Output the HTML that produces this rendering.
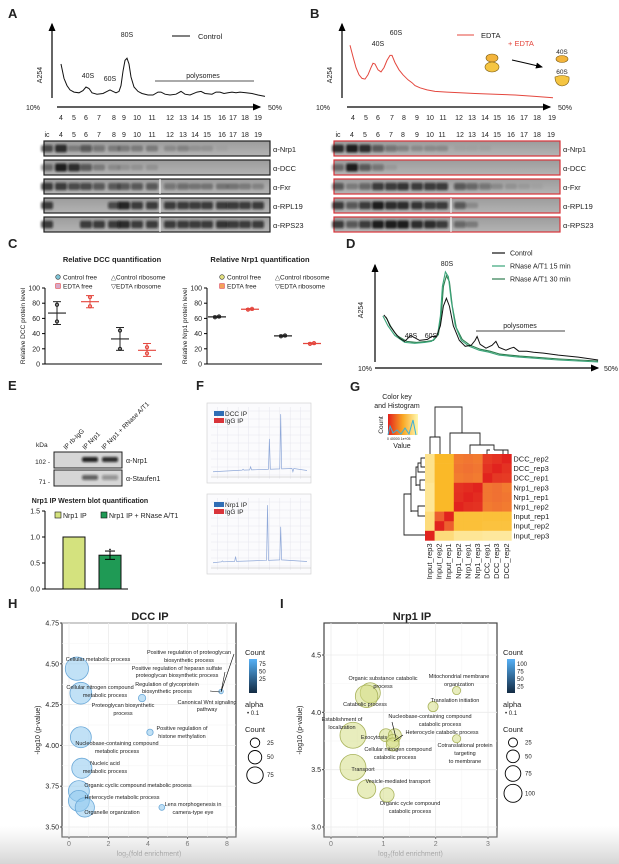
<!DOCTYPE html>
<html><head><meta charset="utf-8"><style>
html,body{margin:0;padding:0;background:#fff}
svg{display:block;font-family:"Liberation Sans",sans-serif}
text{fill:#222}
</style></head><body>
<svg id="fig" width="619" height="864" viewBox="0 0 619 864">
<defs>
<filter id="blur" x="-50%" y="-50%" width="200%" height="200%"><feGaussianBlur stdDeviation="1.1"/></filter>
<linearGradient id="blotbg" x1="0" y1="0" x2="0" y2="1"><stop offset="0" stop-color="#9c9c9c"/><stop offset="1" stop-color="#b4b4b4"/></linearGradient>
<linearGradient id="cntgrad" x1="0" y1="0" x2="0" y2="1"><stop offset="0" stop-color="#56b1f7"/><stop offset="1" stop-color="#132b43"/></linearGradient>
<linearGradient id="keygrad" x1="0" y1="0" x2="1" y2="0"><stop offset="0" stop-color="#e3201c"/><stop offset="0.5" stop-color="#f9a825"/><stop offset="1" stop-color="#fff9b0"/></linearGradient>
<linearGradient id="fade" x1="0" y1="0" x2="0" y2="1"><stop offset="0" stop-color="#dcdcdc" stop-opacity="0"/><stop offset="1" stop-color="#d6d6d6" stop-opacity="1"/></linearGradient>
<marker id="arr" markerWidth="8" markerHeight="8" refX="6" refY="3" orient="auto"><path d="M0,0 L7,3 L0,6z" fill="#000"/></marker>
</defs>
<g font-weight="bold" font-size="13">
<text x="8" y="18">A</text>
<text x="310" y="18">B</text>
<text x="8" y="248">C</text>
<text x="346" y="248">D</text>
<text x="8" y="390">E</text>
<text x="196" y="390">F</text>
<text x="350" y="391">G</text>
<text x="8" y="608">H</text>
<text x="280" y="608">I</text>
</g>
<g id="root"></g>
<rect x="0" y="826" width="619" height="38" fill="url(#fade)"/>
</svg>
<script>
// ---------------- DATA ----------------
const aTraceX=[1,1.75,2.5,3.25,4.25,5.5,6.5,7.25,8,8.75,10,11.5,12.5,13.25,14,14.75,15.5,16,16.5,17,17.5,18,18.5,19.25,20.25,21.25,22.75,24,25.25,26,27,28.25,29.75,31,32,33.25,35,36,37,38.75,39.75,40.75,41.75,42.75,43.75,44.75,45.75,47.25,48.75,50.25,52];
const aTraceY=[5.0,3.0,2.0,1.4,1.1,1.0,1.3,1.8,1.6,1.0,0.8,0.9,1.2,1.4,1.2,1.0,1.2,2.0,4.0,5.5,5.8,5.0,3.2,1.8,1.2,0.9,0.7,0.7,1.1,1.1,0.8,0.7,0.8,1.2,0.8,0.7,1.1,1.2,0.9,0.8,1.1,1.1,0.9,1.0,1.1,1.0,1.1,1.0,0.9,0.7,0.5];
const bTraceX=[0.75,1.5,2.25,3,3.75,4.5,5.25,6,6.5,7,7.75,8.5,9.25,10,10.75,11.25,12,13,14,15.25,16.25,17,18.25,20,22,25,28.25,32,37,42,47,51.5];
const bTraceY=[7.6,6.0,4.5,3.5,3.0,2.9,3.5,4.5,5.1,5.0,4.2,3.9,4.5,5.5,6.2,6.2,5.2,4.2,3.5,2.8,2.4,2.0,1.7,1.4,1.2,1.1,1.0,0.9,0.8,0.7,0.5,0.3];
const dCtrlX=[2.25,3,3.75,5,6.25,7.5,9,11.25,13.25,14.25,15.5,16.5,17.25,18,18.75,19.75,21.25,22.75,24.25,25.25,25.75,26.5,28,29.5,30.5,31.25,33,34.25,35,36.25,38.25,40,42.5,46.25,51.25,56.25];
const dCtrlY=[4.6,4.2,3.5,2.8,2.2,1.9,2.5,2.0,2.1,2.4,2.4,3.5,5.5,6.3,5.5,3.5,2.0,1.4,1.5,2.0,2.4,1.6,1.2,1.5,1.9,1.3,1.0,1.2,1.3,0.9,0.9,0.8,0.7,0.5,0.3,0];
const dR15X=[2,3.25,5,7.5,10,12.5,14.25,15.75,16.5,17,17.75,18.5,19.25,20.25,21.75,23.75,26.25,28.75,31.25,36.25,46.25,56.25];
const dR15Y=[4.5,3.5,2.5,1.8,1.7,1.8,1.9,2.5,4.5,7.5,9.0,8.5,6.0,3.5,2.0,1.4,1.0,0.8,0.5,0.3,0,-0.2];
const dR30X=[2.75,4,5.5,8,10.5,13,14.75,16,16.75,17.25,18,18.75,19.5,20.5,22,24,26.5,29,31.5,36.5,46.5,56.25];
const dR30Y=[4.4,3.4,2.5,1.9,1.8,1.9,2.0,2.6,4.8,7.5,8.6,8.0,5.5,3.3,2.1,1.5,1.1,0.9,0.6,0.4,0.1,-0.1];
const laneLabels=['ic','4','5','6','7','8','9','10','11','12','13','14','15','16','17','18','19'];
const blotNames=['α-Nrp1','α-DCC','α-Fxr','α-RPL19','α-RPS23'];
const aNrp1=[0.7,0.9,0.3,0.6,0.4,0.3,0.3,0.3,0.3,0.2,0.25,0.15,0.15,0.05,0,0,0];
const aDCC=[0.5,1,0.9,0.6,0.3,0.2,0.15,0.15,0.15,0,0,0,0,0,0,0,0];
const aFxr=[0.8,0.8,0.7,0.7,0.6,0.6,0.6,0.6,0.6,0.4,0.45,0.35,0.35,0.35,0.35,0.3,0.25];
const aRPL19=[0.8,0,0,0,0,0.7,0.95,0.8,0.8,0.8,0.8,0.8,0.8,0.8,0.8,0.8,0.8];
const aRPS23=[0.8,0,0,0.8,0.8,0.8,0.9,0.8,0.8,0.8,0.8,0.8,0.8,0.85,0.8,0.8,0.8];
const bNrp1=[0.9,1,0.9,0.6,0.4,0.25,0.2,0.2,0.2,0.05,0.05,0.05,0,0,0,0,0];
const bDCC=[0.5,1,0.6,0.4,0.1,0,0,0,0,0,0,0,0,0,0,0,0];
const bFxr=[0.6,0.3,0.5,0.8,0.8,0.85,0.8,0.8,0.8,0.6,0.5,0.4,0.2,0.15,0.1,0.05,0];
const bRPL19=[0.8,0.6,0.8,1,0.9,0.9,0.85,0.8,0.8,0.6,0.2,0,0,0,0,0,0];
const bRPS23=[0.8,0.6,0.8,1,1,1,0.9,0.9,0.8,0.5,0.3,0,0,0,0,0,0];
const cGroups=['Control free','EDTA free','Control ribosome','EDTA ribosome'];
const cDccMean=[67,82,33,18];
const cDccLo=[52,74,18,10];
const cDccHi=[82,90,48,27];
const cDccPts=[[56,78],[88,76],[20,44],[14,22]];
const cNrpMean=[62,72,37,27];
const cNrpLo=[61,71,36,26];
const cNrpHi=[63,73,38,28];
const cTicks=[0,20,40,60,80,100];
const eCats=['Nrp1 IP','Nrp1 IP + RNase A/T1'];
const eVals=[1.0,0.65];
const eErr=[0,0.08];
const eTicks=[0.0,0.5,1.0,1.5];
const gRows=['DCC_rep2','DCC_rep3','DCC_rep1','Nrp1_rep3','Nrp1_rep1','Nrp1_rep2','Input_rep1','Input_rep2','Input_rep3'];
const gCols=['Input_rep3','Input_rep2','Input_rep1','Nrp1_rep2','Nrp1_rep1','Nrp1_rep3','DCC_rep1','DCC_rep3','DCC_rep2'];
const gVals=[
[0.15,0.45,0.45,0.7,0.72,0.7,0.92,0.95,1.0],
[0.15,0.45,0.45,0.72,0.74,0.72,0.95,1.0,0.95],
[0.15,0.45,0.45,0.7,0.72,0.7,1.0,0.93,0.92],
[0.12,0.45,0.45,0.95,0.97,1.0,0.72,0.74,0.7],
[0.12,0.45,0.45,0.96,1.0,0.97,0.72,0.74,0.72],
[0.12,0.45,0.45,1.0,0.96,0.95,0.7,0.72,0.7],
[0.2,0.8,1.0,0.4,0.4,0.4,0.4,0.4,0.4],
[0.2,1.0,0.8,0.4,0.4,0.4,0.38,0.38,0.38],
[1.0,0.2,0.2,0.12,0.12,0.12,0.1,0.1,0.1]];
const hTerms=['Cellular metabolic process','Cellular nitrogen compound metabolic process','Proteoglycan biosynthetic process','Canonical Wnt signaling pathway','Positive regulation of histone methylation','Nucleobase-containing compound metabolic process','Nucleic acid metabolic process','Organic cyclic compound metabolic process','Heterocycle metabolic process','Organelle organization','Lens morphogenesis in camera-type eye'];
const hFold=[0.4,0.6,3.7,7.7,4.1,0.6,0.65,0.5,0.5,0.8,4.7];
const hP=[4.47,4.32,4.29,4.33,4.08,4.05,3.86,3.72,3.66,3.62,3.62];
const hCount=[80,70,8,3,6,65,60,65,65,55,5];
const hXTicks=[0,2,4,6,8];
const hYTicks=[3.5,3.75,4.0,4.25,4.5,4.75];
const iTerms=['Organic substance catabolic process','Catabolic process','Mitochondrial membrane organization','Translation initiation','Establishment of localization','Exocytosis','Nucleobase-containing compound catabolic process','Heterocycle catabolic process','Cellular nitrogen compound catabolic process','Cotranslational protein targeting to membrane','Transport','Vesicle-mediated transport','Organic cycle compound catabolic process'];
const iFold=[0.75,0.68,2.4,1.95,0.42,1.05,1.22,1.18,1.18,2.4,0.42,0.68,1.07];
const iP=[4.17,4.14,4.19,4.05,3.8,3.8,3.8,3.75,3.72,3.77,3.52,3.33,3.28];
const iCount=[60,75,10,15,100,25,25,25,25,10,100,50,30];
const iXTicks=[0,1,2,3];
const iYTicks=[3.0,3.5,4.0,4.5];

// ---------------- HELPERS ----------------
const NS='http://www.w3.org/2000/svg';
const root=document.getElementById('root');
function mk(tag,at,parent){const e=document.createElementNS(NS,tag);for(const k in at)e.setAttribute(k,at[k]);(parent||root).appendChild(e);return e;}
function tx(x,y,s,size,opt,parent){const e=mk('text',Object.assign({x:x,y:y,'font-size':size},opt||{}),parent);e.textContent=s;return e;}
function lin(d0,d1,r0,r1){return v=>r0+(v-d0)*(r1-r0)/(d1-d0);}
function pathFrom(xs,ys,sx,sy){return xs.map((v,i)=>(i?'L':'M')+sx(v).toFixed(1)+','+sy(ys[i]).toFixed(1)).join(' ');}

function profile(x0,xlab,traceX,traceY,color,name,fracPos){
  const sx=lin(0,52,x0+5,x0+213), sy=lin(0,10,100,28);
  let e=mk('line',{x1:x0,y1:98,x2:x0,y2:24,stroke:'#000','stroke-width':1.2,'marker-end':'url(#arr)'});
  
  e=mk('line',{x1:x0+5,y1:107,x2:x0+208,y2:107,stroke:'#000','stroke-width':1.2,'marker-end':'url(#arr)'});
  
  e=tx(x0-10,75,'A254',7,{transform:'rotate(-90 '+(x0-10)+' 75)','text-anchor':'middle'});
  
  e=tx(x0-12,110,'10%',7,{'text-anchor':'end'});
  
  e=tx(x0+216,110,'50%',7);
  
  fracPos.forEach((p,i)=>{const t=tx(p,120,laneLabels[i+1],7,{'text-anchor':'middle'});
    });
  e=mk('path',{d:pathFrom(traceX,traceY,sx,sy),fill:'none',stroke:color,'stroke-width':1});
  
  return {sx,sy};
}
const aFrac=[61,74,86,99,114,124,137,152,170,183,195,207,222,233,245,258];
const bFrac=[353,366,378,392,404,417,430,443,459,472,485,497,511,524,537,552];
profile(52,0,aTraceX,aTraceY,'#111','profile-a',aFrac);
profile(342,0,bTraceX,bTraceY,'#e4473e','profile-b',bFrac);
let t;
t=tx(88,78,'40S',7,{'text-anchor':'middle'});
t=tx(110,81,'60S',7,{'text-anchor':'middle'});
t=tx(127,37,'80S',7,{'text-anchor':'middle'});
t=mk('line',{x1:155,y1:81,x2:254,y2:81,stroke:'#555','stroke-width':1});
t=tx(203,78,'polysomes',7,{'text-anchor':'middle'});
t=mk('line',{x1:172,y1:36,x2:190,y2:36,stroke:'#000','stroke-width':1});
t=tx(198,39,'Control',7.5);
t=tx(378,46,'40S',7,{'text-anchor':'middle'});
t=tx(396,35,'60S',7,{'text-anchor':'middle'});
t=mk('line',{x1:457,y1:35,x2:474,y2:35,stroke:'#e4473e','stroke-width':1});
t=tx(481,38,'EDTA',7.5);
t=tx(508,46,'+ EDTA',7.5,{fill:'#e4473e'});t.style.fill='#e4473e';
t=mk('ellipse',{cx:492,cy:58,rx:6,ry:4,fill:'#f3b43b',stroke:'#7a5a10','stroke-width':0.6});
t=mk('ellipse',{cx:492,cy:67,rx:7,ry:5,fill:'#f5c542',stroke:'#7a5a10','stroke-width':0.6});
t=mk('path',{d:'M512,60 Q530,64 542,67',fill:'none',stroke:'#000','stroke-width':1,'marker-end':'url(#arr)'});
t=tx(562,54,'40S',6.5,{'text-anchor':'middle'});
t=mk('ellipse',{cx:562,cy:59,rx:6,ry:3.5,fill:'#f3b43b',stroke:'#7a5a10','stroke-width':0.6});
t=tx(562,74,'60S',6.5,{'text-anchor':'middle'});
t=mk('path',{d:'M555,77 Q562,74 569,77 Q570,85 562,86 Q555,85 555,77z',fill:'#f5c542',stroke:'#7a5a10','stroke-width':0.6});

function blots(x0,x1,lanes,rows,ys,border,divX,divRows,name){
  lanes.forEach((p,i)=>{const l=tx(p,137,laneLabels[i],7,{'text-anchor':'middle'});
    });
  rows.forEach((vals,r)=>{
    const y=ys[r], h=15;
    const g=mk('g',{});
    
    mk('rect',{x:x0,y:y,width:x1-x0,height:h,fill:'url(#blotbg)',stroke:border,'stroke-width':1.2},g);
    vals.forEach((v,i)=>{ if(v<=0) return;
      const b=mk('rect',{x:lanes[i]-6,y:y+h/2-2.5-v*1.5,width:12,height:5+v*3,rx:2,fill:'#111','fill-opacity':Math.min(1,v*0.9),filter:'url(#blur)'},g);
      });
    if(divRows.includes(r)){mk('line',{x1:divX,y1:y,x2:divX,y2:y+h,stroke:'#fff','stroke-width':1},g);}
    const lb=tx(x1+3,y+11,blotNames[r],7.5);
    
  });
}
blots(44,270,[47].concat(aFrac),[aNrp1,aDCC,aFxr,aRPL19,aRPS23],[141,160,179,198,217],'#222',160,[2,3,4],'a');
blots(334,560,[338,352,365,378,391,403,417,430,442,460,472,485,497,511,524,537,551],[bNrp1,bDCC,bFxr,bRPL19,bRPS23],[141,160,179,198,217],'#d9343a',451,[3,4],'b');

function dotplot(ax,xEnd,xs,mean,lo,hi,pts,colors,title,titleX,ylab,name){
  const sy=lin(0,100,364,288);
  let e=tx(titleX,262,title,7.5,{'font-weight':'bold','text-anchor':'middle'});
  
  e=mk('line',{x1:ax,y1:288,x2:ax,y2:364,stroke:'#000'});
  e=mk('line',{x1:ax,y1:364,x2:xEnd,y2:364,stroke:'#000'});
  cTicks.forEach(v=>{mk('line',{x1:ax-3,y1:sy(v),x2:ax,y2:sy(v),stroke:'#000'});
    const l=tx(ax-5,sy(v)+2.5,String(v),7,{'text-anchor':'end'});});
  e=tx(ax-20,326,ylab,6.5,{transform:'rotate(-90 '+(ax-20)+' 326)','text-anchor':'middle'});
  
  xs.forEach((x,i)=>{const c=colors[i];
    const g=mk('g',{});
    mk('line',{x1:x,y1:sy(lo[i]),x2:x,y2:sy(hi[i]),stroke:c,'stroke-width':1},g);
    mk('line',{x1:x-4,y1:sy(lo[i]),x2:x+4,y2:sy(lo[i]),stroke:c},g);
    mk('line',{x1:x-4,y1:sy(hi[i]),x2:x+4,y2:sy(hi[i]),stroke:c},g);
    mk('line',{x1:x-9,y1:sy(mean[i]),x2:x+9,y2:sy(mean[i]),stroke:c,'stroke-width':1.2},g);
    (pts?pts[i]:[mean[i]-0.5,mean[i]+0.5]).forEach((p,k)=>mk('circle',{cx:x+(pts?0:(k?2:-2)),cy:sy(p),r:1.6,fill:'none',stroke:c},g));
  });
}
dotplot(45,162,[57,90,120,147],cDccMean,cDccLo,cDccHi,cDccPts,['#222','#e4473e','#222','#e4473e'],'Relative DCC quantification',112,'Relative DCC protein level','dcc-quant');
dotplot(207,322,[217,250,283,312],cNrpMean,cNrpLo,cNrpHi,null,['#222','#e4473e','#222','#e4473e'],'Relative Nrp1 quantification',260,'Relative Nrp1 protein level','nrp1-quant');
function cLegend(x1,x2,c1,c2,name){
  let e;
  e=mk('circle',{cx:x1,cy:277,r:2.3,fill:c1,stroke:'#333','stroke-width':0.6});
  e=tx(x1+5,279.5,cGroups[0],6.5);
  e=mk('rect',{x:x1-2.3,y:283.7,width:4.6,height:4.6,fill:c2,stroke:'#d9343a','stroke-width':0.6});
  e=tx(x1+5,288.5,cGroups[1],6.5);
  e=tx(x2,279.5,'△'+cGroups[2],6.5);
  e=tx(x2,288.5,'▽'+cGroups[3],6.5,{fill:'#222'});
}
cLegend(58,111,'#7fc4d6','#d8a8c8','dcc');
cLegend(222,275,'#e3e080','#f5a25a','nrp1');

(function(){
  const sx=lin(0,58,375,605), sy=lin(0,10,360,262);
  let e=mk('line',{x1:375,y1:362,x2:375,y2:265,stroke:'#000','stroke-width':1.2,'marker-end':'url(#arr)'});
  e=mk('line',{x1:375,y1:368,x2:598,y2:368,stroke:'#000','stroke-width':1.2,'marker-end':'url(#arr)'});
  e=tx(363,310,'A254',7,{transform:'rotate(-90 363 310)','text-anchor':'middle'});
  e=tx(372,371,'10%',7,{'text-anchor':'end'});
  e=tx(604,371,'50%',7);
  e=mk('path',{d:pathFrom(dR30X,dR30Y,sx,sy),fill:'none',stroke:'#2e7d4f','stroke-width':1.1});
  e=mk('path',{d:pathFrom(dR15X,dR15Y,sx,sy),fill:'none',stroke:'#3aa57a','stroke-width':1.1});
  e=mk('path',{d:pathFrom(dCtrlX,dCtrlY,sx,sy),fill:'none',stroke:'#111','stroke-width':1});
  e=tx(411,338,'40S',7,{'text-anchor':'middle'});
  e=tx(431,338,'60S',7,{'text-anchor':'middle'});
  e=tx(447,266,'80S',7,{'text-anchor':'middle'});
  e=mk('line',{x1:476,y1:331,x2:565,y2:331,stroke:'#444'});
  e=tx(520,328,'polysomes',7,{'text-anchor':'middle'});
  [['Control','#111'],['RNase A/T1 15 min','#3aa57a'],['RNase A/T1 30 min','#2e7d4f']].forEach((l,i)=>{
    const y=253+i*13;
    const ln=mk('line',{x1:492,y1:y,x2:505,y2:y,stroke:l[1],'stroke-width':1.2});
    const tt=tx(510,y+2.5,l[0],7);});
})();

(function(){
  let e;
  e=tx(36,447,'kDa',6.5);
  e=tx(50,464,'102 -',6.5,{'text-anchor':'end'});
  e=tx(50,484,'71 -',6.5,{'text-anchor':'end'});
  ['IP rb-IgG','IP Nrp1','IP Nrp1 + RNase A/T1'].forEach((s,i)=>{const x=66+i*19;
    const l=tx(x,450,s,6.5,{transform:'rotate(-45 '+x+' 450)'});});
  const rows=[[0,0.9,0.85],[0,0.6,0.35]];
  ['α-Nrp1','α-Staufen1'].forEach((n,r)=>{const y=452+r*18;
    const g=mk('g',{});
    mk('rect',{x:54,y:y,width:68,height:16,fill:'#d6d6d6',stroke:'#222'},g);
    rows[r].forEach((v,i)=>{if(v>0)mk('rect',{x:62+i*20,y:y+5,width:16,height:5,rx:2,fill:'#111','fill-opacity':v,filter:'url(#blur)'},g);});
    const l=tx(126,y+11,n,7);});
  const sy=lin(0,1.5,589,511);
  e=tx(90,503,'Nrp1 IP Western blot quantification',7,{'font-weight':'bold','text-anchor':'middle'});
  e=mk('line',{x1:45,y1:511,x2:45,y2:589,stroke:'#000'});
  e=mk('line',{x1:45,y1:589,x2:128,y2:589,stroke:'#000'});
  eTicks.forEach(v=>{mk('line',{x1:42,y1:sy(v),x2:45,y2:sy(v),stroke:'#000'});
    const l=tx(40,sy(v)+2.5,v.toFixed(1),7,{'text-anchor':'end'});});
  const cols=['#d4e27e','#1f9a55'];
  eVals.forEach((v,i)=>{const x=63+i*36;
    const b=mk('rect',{x:x,y:sy(v),width:22,height:sy(0)-sy(v),fill:cols[i],stroke:'#111'});
    
    if(eErr[i]>0){const g=mk('g',{});
      mk('line',{x1:x+11,y1:sy(v-eErr[i]),x2:x+11,y2:sy(v+eErr[i]),stroke:'#000'},g);
      mk('line',{x1:x+6,y1:sy(v+eErr[i]),x2:x+16,y2:sy(v+eErr[i]),stroke:'#000'},g);
      mk('line',{x1:x+6,y1:sy(v-eErr[i]),x2:x+16,y2:sy(v-eErr[i]),stroke:'#000'},g);
      mk('circle',{cx:x+11,cy:sy(v+eErr[i]+0.03),r:0.8,fill:'#000'},g);}
    const lx=i?101:55;
    const sq=mk('rect',{x:lx,y:512,width:6,height:6,fill:cols[i],stroke:'#111','stroke-width':0.6});
    const lt=tx(lx+8,518,eCats[i],7);
  });
})();

const fTopPeaks=[[0.32,0.06],[0.4,0.1],[0.6,0.55],[0.72,0.95],[0.85,0.02]];
const fBotPeaks=[[0.1,0.05],[0.24,0.12],[0.58,0.95],[0.72,0.6]];
function chrom(y0,peaks,labels,name){
  const x0=207,w=104,h=80;
  const g=mk('g',{});
  mk('rect',{x:x0,y:y0,width:w,height:h,fill:'#fbfbfd',stroke:'#ccc','stroke-width':0.6},g);
  for(let i=1;i<10;i++){mk('line',{x1:x0+i*w/10,y1:y0+4,x2:x0+i*w/10,y2:y0+h-4,stroke:'#e6e6ee','stroke-width':0.5},g);
    mk('line',{x1:x0+4,y1:y0+i*h/10,x2:x0+w,y2:y0+i*h/10,stroke:'#e6e6ee','stroke-width':0.5},g);}
  const sx=lin(0,1,x0+6,x0+w-4), sy=lin(0,1,y0+h-10,y0+8);
  let d='M'+sx(0)+','+sy(0.02);
  peaks.forEach(p=>{d+=' L'+sx(p[0]-0.01)+','+sy(0.03+p[0]*0.05)+' L'+sx(p[0])+','+sy(p[1])+' L'+sx(p[0]+0.01)+','+sy(0.03+p[0]*0.05);});
  d+=' L'+sx(1)+','+sy(0.04);
  const ln=mk('path',{d:d,fill:'none',stroke:'#8fa8d8','stroke-width':0.7},g);
  mk('line',{x1:x0+4,y1:y0+h-6,x2:x0+w,y2:y0+h-6,stroke:'#bbb','stroke-width':0.5},g);
  const cs=['#2f6db5','#d9343a'];
  labels.forEach((s,i)=>{mk('rect',{x:x0+7,y:y0+8+i*7,width:10,height:5,fill:cs[i]},g);
    const l=tx(x0+18,y0+13+i*7,s,6.5);});
}
chrom(403,fTopPeaks,['DCC IP','IgG IP'],'chromatogram-dcc');
chrom(494,fBotPeaks,['Nrp1 IP','IgG IP'],'chromatogram-nrp1');

(function(){
  const x0=425,y0=454,c=9.6;
  function col(v){
    const stops=[[0,[255,246,190]],[0.45,[250,185,40]],[0.75,[240,110,50]],[1,[225,35,30]]];
    for(let i=1;i<stops.length;i++){if(v<=stops[i][0]){const a=stops[i-1],b=stops[i],t=(v-a[0])/(b[0]-a[0]);
      return 'rgb('+a[1].map((q,k)=>Math.round(q+(b[1][k]-q)*t)).join(',')+')';}}
    return 'rgb(225,35,30)';}
  gRows.forEach((r,i)=>{gCols.forEach((cn,j)=>{
    const e=mk('rect',{x:x0+j*c,y:y0+i*c,width:c+0.3,height:c+0.3,fill:col(gVals[i][j])});
    });
    const l=tx(x0+9*c+2,y0+i*c+7.5,r,7.5);});
  gCols.forEach((cn,j)=>{const x=x0+j*c+7;
    const l=tx(x,y0+9*c+3,cn,7.5,{transform:'rotate(-90 '+x+' '+(y0+9*c+3)+')','text-anchor':'end'});
    });
  let d=mk('path',{d:'M430,454 V437 H440 V454 M435,437 V407 H462 V433 M462,433 H450 V454 M462,433 V433 H480 V445 M480,445 H470 V454 M480,445 H494 V450 M490,450 H487 V454 M494,450 H503 V454 M494,450 H508 V454',fill:'none',stroke:'#222','stroke-width':0.9});
  
  d=mk('path',{d:'M425,458 H421 V467 H425 M421,463 H418 V472 H425 M418,467 H416 V486 M425,480 H420 V490 H425 M420,485 H416 V486 M416,477 H411 V512 M425,506 H418 V516 H425 M418,511 H411 M411,494 H404 V535 H425',fill:'none',stroke:'#222','stroke-width':0.9});
  
  let e=tx(397,399,'Color key',7,{'text-anchor':'middle'});
  e=tx(397,408,'and Histogram',7,{'text-anchor':'middle'});
  e=mk('rect',{x:388,y:414,width:30,height:21,fill:'url(#keygrad)'});
  e=mk('path',{d:'M388,435 L390,426 L393,433 L397,430 L401,434 L405,428 L409,434 L413,420 L416,435',fill:'none',stroke:'#3ab0d8','stroke-width':1});
  e=tx(383,425,'Count',6.5,{transform:'rotate(-90 383 425)','text-anchor':'middle'});
  e=tx(387,440,'0  40000  1e+05',3.5);
  e=tx(402,448,'Value',7,{'text-anchor':'middle'});
})();

function bubble(cfg){
  const {px0,px1,py0,py1,xd,yd,xticks,yticks,terms,fold,p,count,fill,stroke,title,titleX,name,rScale,legScale,legendX,cntTicks,sizeTicks,yFmt}=cfg;
  const sx=lin(xd[0],xd[1],cfg.x0px,cfg.x1px), sy=lin(yd[0],yd[1],cfg.y0px,cfg.y1px);
  let e=mk('rect',{x:px0,y:py0,width:px1-px0,height:py1-py0,fill:'#fff',stroke:'#444','stroke-width':1.2});
  
  xticks.forEach((v,i)=>{mk('line',{x1:sx(v),y1:py0,x2:sx(v),y2:py1,stroke:'#ebebeb','stroke-width':0.8});
    if(i<xticks.length-1){const m=(v+xticks[i+1])/2;mk('line',{x1:sx(m),y1:py0,x2:sx(m),y2:py1,stroke:'#f4f4f4','stroke-width':0.5});}
    mk('line',{x1:sx(v),y1:py1,x2:sx(v),y2:py1+2,stroke:'#444'});
    const l=tx(sx(v),py1+9,String(v),7,{'text-anchor':'middle',fill:'#444'});});
  yticks.forEach((v,i)=>{mk('line',{x1:px0,y1:sy(v),x2:px1,y2:sy(v),stroke:'#ebebeb','stroke-width':0.8});
    if(i<yticks.length-1){const m=(v+yticks[i+1])/2;mk('line',{x1:px0,y1:sy(m),x2:px1,y2:sy(m),stroke:'#f4f4f4','stroke-width':0.5});}
    mk('line',{x1:px0-2,y1:sy(v),x2:px0,y2:sy(v),stroke:'#444'});
    const l=tx(px0-3,sy(v)+2.5,yFmt(v),7,{'text-anchor':'end',fill:'#444'});});
  e=tx(titleX,620,title,11,{'font-weight':'bold','text-anchor':'middle'});
  e=tx((px0+px1)/2,856,'',7,{'text-anchor':'middle'});
  const s1=mk('tspan',{},e);s1.textContent='log';const s2=mk('tspan',{dy:2,'font-size':5},e);s2.textContent='2';const s3=mk('tspan',{dy:-2},e);s3.textContent='(fold enrichment)';
  
  const ym=(py0+py1)/2;
  e=tx(px0-22,ym,'-log10 (p-value)',7,{transform:'rotate(-90 '+(px0-22)+' '+ym+')','text-anchor':'middle'});
  
  terms.forEach((t,i)=>{const c=mk('circle',{cx:sx(fold[i]),cy:sy(p[i]),r:rScale(count[i]),fill:fill,'fill-opacity':0.55,stroke:stroke,'stroke-width':0.8});
    });
  e=tx(legendX,cfg.legY,'Count',7.5);
  e=mk('rect',{x:legendX+4,y:cfg.legY+4,width:8,height:34,fill:'url(#cntgrad)'});
  cntTicks.forEach((v,i)=>{const l=tx(legendX+14,cfg.legY+11+i*7.5,String(v),6);});
  e=tx(legendX,cfg.legY+52,'alpha',7.5);
  e=tx(legendX+2,cfg.legY+60,'• 0.1',6);
  e=tx(legendX,cfg.legY+77,'Count',7.5);
  let yy=cfg.legY+83;
  sizeTicks.forEach(v=>{const r=legScale(v);yy+=r;
    const c=mk('circle',{cx:legendX+10,cy:yy,r:r,fill:'none',stroke:'#000','stroke-width':0.9});
    const l=tx(legendX+22,yy+2,String(v),6);
    yy+=r+3;});
  return {sx,sy};
}
bubble({px0:62,px1:236,py0:623,py1:837,x0px:69,x1px:227,y0px:827,y1px:623,xd:[0,8],yd:[3.5,4.75],xticks:hXTicks,yticks:hYTicks,
  terms:hTerms,fold:hFold,p:hP,count:hCount,fill:'#8ec8ef',stroke:'#6aa8d8',title:'DCC IP',titleX:150,name:'dcc-ip',
  rScale:c=>Math.sqrt(c)*1.3,legScale:c=>Math.sqrt(c)*0.95,legendX:245,legY:655,cntTicks:[75,50,25],sizeTicks:[25,50,75],yFmt:v=>v.toFixed(2)});
bubble({px0:324,px1:497,py0:623,py1:837,x0px:331,x1px:488,y0px:827,y1px:655,xd:[0,3],yd:[3.0,4.5],xticks:iXTicks,yticks:iYTicks,
  terms:iTerms,fold:iFold,p:iP,count:iCount,fill:'#d6de86',stroke:'#a9b35c',title:'Nrp1 IP',titleX:412,name:'nrp1-ip',
  rScale:c=>Math.sqrt(c)*1.3,legScale:c=>Math.sqrt(c)*0.9,legendX:503,legY:655,cntTicks:[100,75,50,25],sizeTicks:[25,50,75,100],yFmt:v=>v.toFixed(1)});
function lbl(x,y,s,name){const l=tx(x,y,s,5.5,{'text-anchor':'middle'});}
lbl(98,661,'Cellular metabolic process','label-cellular-metabolic');
lbl(100,689,'Cellular nitrogen compound','label-cellular-nitrogen');
lbl(105,697,'metabolic process','label-cellular-nitrogen-2');
lbl(123,707,'Proteoglycan biosynthetic','label-proteoglycan');
lbl(123,715,'process','label-proteoglycan-2');
lbl(189,654,'Positive regulation of proteoglycan','label-pos-reg-proteoglycan');
lbl(189,662,'biosynthetic process','label-pos-reg-proteoglycan-2');
lbl(177,670,'Positive regulation of heparan sulfate','label-heparan');
lbl(177,677,'proteoglycan biosynthetic process','label-heparan-2');
lbl(167,686,'Regulation of glycoprotein','label-glycoprotein');
lbl(167,693,'biosynthetic process','label-glycoprotein-2');
lbl(207,704,'Canonical Wnt signaling','label-wnt');
lbl(207,711,'pathway','label-wnt-2');
lbl(182,730,'Positive regulation of','label-histone');
lbl(182,738,'histone methylation','label-histone-2');
lbl(117,745,'Nucleobase-containing compound','label-nucleobase');
lbl(117,753,'metabolic process','label-nucleobase-2');
lbl(105,765,'Nucleic acid','label-nucleic-acid');
lbl(105,773,'metabolic process','label-nucleic-acid-2');
lbl(138,787,'Organic cyclic compound metabolic process','label-organic-cyclic');
lbl(122,799,'Heterocycle metabolic process','label-heterocycle');
lbl(112,814,'Organelle organization','label-organelle');
lbl(193,806,'Lens morphogenesis in','label-lens');
lbl(193,814,'camera-type eye','label-lens-2');
let ptr=mk('path',{d:'M234,654 L221,692 M225,672 L221,692 M210,691 L220,692',fill:'none',stroke:'#000','stroke-width':0.6});

lbl(383,680,'Organic substance catabolic','label-organic-substance');
lbl(383,688,'process','label-organic-substance-2');
lbl(365,706,'Catabolic process','label-catabolic');
lbl(459,678,'Mitochondrial membrane','label-mitochondrial');
lbl(459,686,'organization','label-mitochondrial-2');
lbl(455,702,'Translation initiation','label-translation');
lbl(342,721,'Establishment of','label-establishment');
lbl(342,729,'localization','label-establishment-2');
lbl(374,739,'Exocytosis','label-exocytosis');
lbl(430,718,'Nucleobase-containing compound','label-nuc-catabolic');
lbl(440,726,'catabolic process','label-nuc-catabolic-2');
lbl(442,734,'Heterocycle catabolic process','label-heterocycle-catabolic');
lbl(398,751,'Cellular nitrogen compound','label-cell-nitrogen-catabolic');
lbl(395,759,'catabolic process','label-cell-nitrogen-catabolic-2');
lbl(465,747,'Cotranslational protein','label-cotranslational');
lbl(465,755,'targeting','label-cotranslational-2');
lbl(465,763,'to membrane','label-cotranslational-3');
lbl(363,771,'Transport','label-transport');
lbl(398,783,'Vesicle-mediated transport','label-vesicle');
lbl(410,805,'Organic cycle compound','label-organic-cycle');
lbl(410,813,'catabolic process','label-organic-cycle-2');
ptr=mk('path',{d:'M392,722 L396,738 M403,735 L394,741',fill:'none',stroke:'#000','stroke-width':0.6});

</script>
</body></html>
